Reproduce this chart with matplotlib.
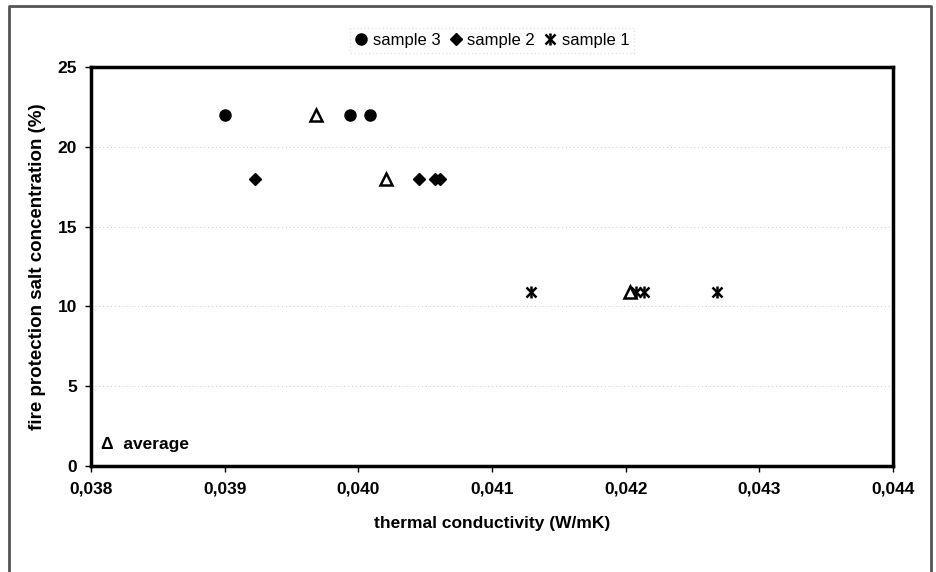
import matplotlib
matplotlib.use("Agg")
import matplotlib.pyplot as plt
from matplotlib.lines import Line2D
from matplotlib.legend_handler import HandlerTuple
from matplotlib.ticker import FuncFormatter

plt.rcParams['font.family'] = ['Liberation Sans', 'DejaVu Sans']

# data
s3_x = [0.03900, 0.03994, 0.04009]
s3_y = [22, 22, 22]
s2_x = [0.03923, 0.04045, 0.04057, 0.04061]
s2_y = [18, 18, 18, 18]
s1_x = [0.04129, 0.04208, 0.04214, 0.04268]
s1_y = [10.9, 10.9, 10.9, 10.9]
avg_x = [0.03968, 0.04021, 0.04203]
avg_y = [22, 18, 10.9]

xticks = [0.038, 0.039, 0.040, 0.041, 0.042, 0.043, 0.044]
yticks = [0, 5, 10, 15, 20, 25]

fig = plt.figure(figsize=(9.36, 5.72), dpi=100)
ax = fig.add_axes([0.0972, 0.1853, 0.857, 0.6977])

# outer frame of the scanned chart
fig.add_artist(Line2D([9/936, 9/936, 931/936, 931/936], [-0.01, 1-6/572, 1-6/572, -0.01],
                      transform=fig.transFigure, color='#555555', lw=2))

for y in yticks[1:-1]:
    ax.axhline(y, color='#c8c8c8', lw=0.7, ls=(0, (1, 3)), zorder=0)

h3, = ax.plot(s3_x, s3_y, 'o', color='black', ms=8, ls='none')
h2, = ax.plot(s2_x, s2_y, 'D', color='black', ms=6, ls='none')
h1a, = ax.plot(s1_x, s1_y, 'x', color='black', ms=7, mew=1.8, ls='none')
h1b, = ax.plot(s1_x, s1_y, '|', color='black', ms=8, mew=1.8, ls='none')
ax.plot(avg_x, avg_y, '^', mfc='white', mec='black', mew=1.8, ms=8, ls='none', zorder=5)

ax.set_xlim(0.038, 0.044)
ax.set_ylim(0, 25)
ax.set_xticks(xticks)
ax.set_yticks(yticks)
ax.xaxis.set_major_formatter(FuncFormatter(lambda v, p: ('%.3f' % v).replace('.', ',')))
ax.tick_params(axis='x', direction='out', length=4, pad=7, labelsize=12.5, width=1)
ax.tick_params(axis='y', direction='out', length=4, pad=6, labelsize=12.5, width=1)
for lab in ax.get_xticklabels() + ax.get_yticklabels():
    lab.set_fontweight('bold')
for sp in ax.spines.values():
    sp.set_linewidth(2.5)

ax.set_xlabel('thermal conductivity (W/mK)', fontsize=12.5, fontweight='bold', labelpad=14)
ax.set_ylabel('fire protection salt concentration (%)', fontsize=13.5, fontweight='bold', labelpad=8)

ax.text(0.013, 0.053, '\u0394  average', transform=ax.transAxes, fontsize=12.5,
        fontweight='bold', va='center', ha='left')

leg = fig.legend([h3, h2, (h1a, h1b)], ['sample 3', 'sample 2', 'sample 1'],
                 handler_map={tuple: HandlerTuple(ndivide=1)},
                 loc='center', bbox_to_anchor=(492/936, 1-40/572), ncol=3,
                 fontsize=12, handlelength=0.8, handletextpad=0.3, columnspacing=0.5,
                 borderpad=0.3, fancybox=False)
leg.get_frame().set_edgecolor('#dddddd')
leg.get_frame().set_linestyle(':')

fig.savefig('out.png', dpi=100)
